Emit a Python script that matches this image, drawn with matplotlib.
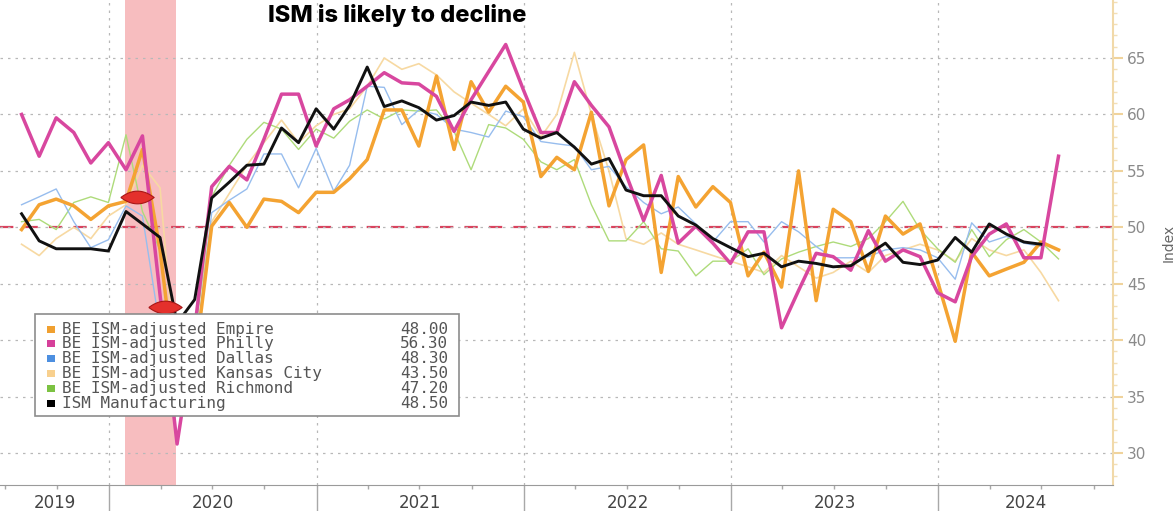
import numpy as np
import pandas as pd
import matplotlib
matplotlib.use("Agg")
import matplotlib.pyplot as plt
import matplotlib.dates as mdates
from matplotlib.patches import Rectangle
from matplotlib.path import Path
from matplotlib.ticker import MultipleLocator

# monthly readings, first value is July 2019 (plotted at month end)
empire = [49.8, 52.0, 52.5, 51.9, 50.7, 51.9,
          52.3, 56.9, 48.0, 35.5, 38.0, 50.1, 52.2, 50.0, 52.5, 52.3, 51.3, 53.1,
          53.1, 54.3, 56.0, 60.4, 60.4, 57.2, 63.4, 56.9, 62.9, 60.2, 62.5, 61.1,
          54.5, 56.2, 55.1, 60.2, 51.9, 56.0, 57.3, 46.0, 54.5, 51.8, 53.6, 52.2,
          45.7, 47.8, 44.7, 55.0, 43.5, 51.6, 50.5, 46.1, 51.0, 49.4, 50.3, 45.2,
          39.9, 47.8, 45.7, 46.3, 46.9, 48.7, 48.0]
philly = [60.0, 56.3, 59.7, 58.4, 55.7, 57.5,
          55.1, 58.1, 44.0, 30.8, 41.0, 53.6, 55.4, 54.2, 57.8, 61.8, 61.8, 57.2,
          60.5, 61.3, 62.5, 63.7, 62.8, 62.7, 61.6, 58.5, 61.3, 63.8, 66.2, 62.2,
          58.4, 58.4, 62.9, 60.8, 58.9, 54.7, 50.6, 54.6, 48.6, 50.1, 48.6, 46.8,
          49.6, 49.6, 41.1, 44.4, 47.7, 47.4, 46.2, 49.7, 47.0, 48.0, 47.4, 44.2,
          43.4, 47.4, 49.4, 50.3, 47.3, 47.3, 56.3]
dallas = [52.0, 52.7, 53.4, 50.5, 48.2, 48.9,
          51.9, 51.0, 41.0, 36.0, 38.5, 51.3, 52.4, 53.4, 56.5, 56.5, 53.5, 57.0,
          53.2, 55.5, 62.5, 62.4, 59.1, 60.4, 60.0, 58.7, 58.4, 58.0, 60.3, 59.8,
          57.6, 57.4, 57.2, 55.1, 55.4, 53.6, 52.2, 51.2, 51.8, 50.3, 48.7, 50.5,
          50.5, 48.7, 50.5, 49.6, 48.3, 47.3, 47.3, 47.4, 48.0, 48.2, 48.0, 47.3,
          45.4, 50.4, 48.7, 49.2, 48.6, 48.3]
kansas = [48.5, 47.5, 49.0, 50.0, 49.0, 51.0,
          52.0, 55.5, 53.5, 36.0, 41.0, 50.5, 53.0, 55.5, 57.5, 59.5, 57.5, 59.0,
          60.0, 60.5, 62.5, 65.0, 64.0, 64.5, 63.5, 62.0, 61.0, 60.0, 59.0, 60.5,
          58.0, 60.0, 65.5, 60.0, 55.0, 49.0, 48.5, 49.5, 48.5, 48.0, 47.5, 47.0,
          46.5, 46.0, 47.5, 46.5, 45.5, 46.0, 47.0, 46.0, 47.5, 48.0, 48.5, 48.0,
          47.0, 49.0, 48.0, 47.5, 48.0, 46.0, 43.5]
richmond = [50.5, 50.7, 49.8, 52.2, 52.7, 52.2,
            58.2, 51.4, 48.0, 35.0, 40.0, 52.7, 55.5, 57.8, 59.3, 58.7, 56.9, 58.7,
            57.9, 59.4, 60.4, 59.6, 60.4, 60.3, 60.4, 58.5, 55.1, 59.1, 58.8, 57.8,
            55.8, 55.1, 56.0, 52.0, 48.8, 48.8, 50.5, 48.1, 47.9, 45.7, 47.0, 47.0,
            48.1, 45.8, 47.2, 47.8, 48.3, 48.7, 48.3, 49.0, 50.5, 52.3, 49.8, 48.1,
            46.9, 49.8, 47.4, 48.9, 49.8, 48.7, 47.2]
ism = [51.2, 48.8, 48.1, 48.1, 48.1, 47.9,
       51.4, 50.3, 49.1, 41.5, 43.6, 52.6, 54.0, 55.5, 55.6, 58.8, 57.5, 60.5,
       58.7, 60.8, 64.2, 60.7, 61.2, 60.6, 59.5, 59.9, 61.1, 60.8, 61.1, 58.7,
       57.9, 58.4, 57.1, 55.6, 56.1, 53.3, 52.8, 52.8, 51.0, 50.2, 49.0, 48.2,
       47.4, 47.7, 46.5, 47.0, 46.8, 46.5, 46.6, 47.6, 48.6, 46.9, 46.7, 47.1,
       49.1, 47.8, 50.3, 49.4, 48.7, 48.5]

legend_names = ["BE ISM-adjusted Empire", "BE ISM-adjusted Philly",
                "BE ISM-adjusted Dallas", "BE ISM-adjusted Kansas City",
                "BE ISM-adjusted Richmond", "ISM Manufacturing"]
legend_values = ["48.00", "56.30", "48.30", "43.50", "47.20", "48.50"]
legend_colors = ["#f0a030", "#d6409a", "#4d8fe0", "#f8d08e", "#7cc242", "#000000"]
years = [2019, 2020, 2021, 2022, 2023, 2024]

recession = ("2020-01-29", "2020-04-28")
alert_dates = ["2020-02-19", "2020-04-08"]
alert_values = [52.7, 42.9]


def month_ends(n):
    return pd.date_range("2019-07-01", periods=n, freq="MS") + pd.offsets.MonthEnd(0)


W, H = 1175, 511
fig = plt.figure(figsize=(W / 100, H / 100), dpi=100)
ax = fig.add_axes([0, 1 - 485 / H, 1113 / W, 485 / H])

ax.axvspan(pd.Timestamp(recession[0]), pd.Timestamp(recession[1]),
           color="#f7b6b8", alpha=0.9, lw=0, zorder=0.5)
ax.axhline(50, color="#d9435e", ls=(0, (6, 5)), lw=1.6, zorder=1.5)

# draw order: thin lines first, ISM on top
lines = [
    (kansas, "#f7d9a2", 1.2),
    (richmond, "#aedb7a", 1.0),
    (dallas, "#97bdee", 1.0),
    (empire, "#f4a332", 2.5),
    (philly, "#d8479f", 2.5),
    (ism, "#111111", 2.1),
]
for vals, col, lw in lines:
    ax.plot(month_ends(len(vals)), vals, color=col, lw=lw, zorder=2)

# red alert markers
t = np.linspace(-1, 1, 25)
top = np.column_stack([t, 0.38 * (1 - t ** 2)])
bot = np.column_stack([t[::-1], -0.38 * (1 - t[::-1] ** 2)])
lens = Path(np.vstack([top, bot]), closed=False)
ax.plot(pd.to_datetime(alert_dates), alert_values, ls="none", marker=lens,
        markersize=24, markerfacecolor="#e4302c", markeredgecolor="#a81616",
        markeredgewidth=0.8, zorder=3)

ax.set_xlim(pd.Timestamp("2019-06-23"), pd.Timestamp("2024-11-04"))
ax.set_ylim(27.17, 70.14)

for s in ["top", "left"]:
    ax.spines[s].set_visible(False)
ax.spines["right"].set_color("#f1d9a9")
ax.spines["right"].set_linewidth(1.5)
ax.spines["bottom"].set_color("#9a9a9a")

ax.yaxis.tick_right()
ax.yaxis.set_label_position("right")
ax.set_yticks(range(30, 70, 5))
ax.yaxis.set_minor_locator(MultipleLocator(1))
ax.tick_params(axis="y", which="major", length=7, width=1.5, color="#f0d39c",
               labelcolor="#8a8a8a", labelsize=11, pad=3)
ax.tick_params(axis="y", which="minor", length=3, width=1, color="#f3dfb6")
ax.set_ylabel("Index", color="#666666", fontsize=10)
ax.yaxis.set_label_coords(1.044, 0.5)

ax.xaxis.set_major_locator(mdates.YearLocator())
ax.xaxis.set_minor_locator(mdates.MonthLocator(bymonth=[1, 4, 7, 10]))
ax.tick_params(axis="x", which="major", length=20, width=1, color="#a8a8a8",
               labelbottom=False)
ax.tick_params(axis="x", which="minor", length=3, width=1, color="#a8a8a8")

ax.grid(True, which="major", ls=(0, (2, 4)), color="#b8b8b8", lw=0.9, zorder=0)

x0, x1 = ax.get_xlim()
for y in years:
    a = max(mdates.date2num(pd.Timestamp(f"{y}-01-01")), x0)
    b = min(mdates.date2num(pd.Timestamp(f"{y + 1}-01-01")), x1)
    ax.text((a + b) / 2, -0.037, str(y), transform=ax.get_xaxis_transform(),
            ha="center", va="center", fontsize=12, color="#444444")


def fx(px):
    return px / W


def fy(py):
    return 1 - py / H


# legend box
ax.add_patch(Rectangle((fx(35), fy(416)), fx(459) - fx(35), fy(314) - fy(416),
                       transform=fig.transFigure, facecolor="white",
                       edgecolor="#8c8c8c", lw=1.2, zorder=10, clip_on=False))
for i, (name, val, col) in enumerate(zip(legend_names, legend_values, legend_colors)):
    yc = 329 + i * 14.8
    ax.add_patch(Rectangle((fx(47), fy(yc + 3.5)), fx(8), 7 / H,
                           transform=fig.transFigure, facecolor=col,
                           edgecolor="none", zorder=11, clip_on=False))
    ax.text(fx(62), fy(yc), name, transform=fig.transFigure, ha="left",
            va="center", fontsize=11.5, family="DejaVu Sans Mono",
            color="#555555", zorder=12)
    ax.text(fx(448), fy(yc), val, transform=fig.transFigure, ha="right",
            va="center", fontsize=11.5, family="DejaVu Sans Mono",
            color="#555555", zorder=12)

fig.text(fx(397), fy(22), "ISM is likely to decline", ha="center",
         va="baseline", fontsize=17, fontweight="heavy", family="Inter")

fig.savefig("out.png", dpi=100)
